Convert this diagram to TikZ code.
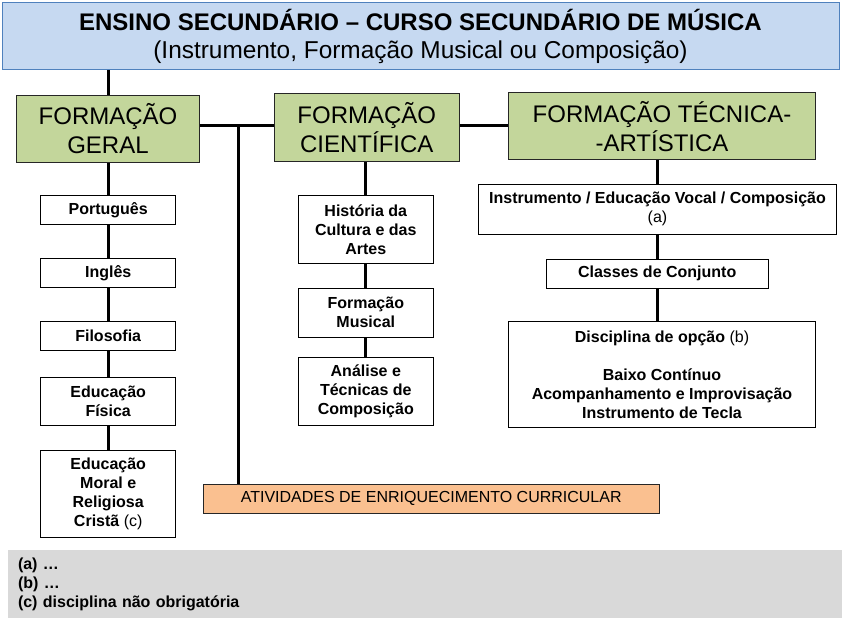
\documentclass[tikz,border=0pt]{standalone}
\usepackage{fontspec}
\setmainfont{Liberation Sans}
\definecolor{titlefill}{HTML}{C6D9F1}
\definecolor{titleline}{HTML}{4F81BD}
\definecolor{headgreen}{HTML}{C3D69B}
\definecolor{extraorange}{HTML}{FAC090}
\definecolor{notegray}{HTML}{D9D9D9}
\tikzset{
  titlebox/.style={draw=titleline, line width=1pt, fill=titlefill, inner sep=0pt,
    minimum width=837pt, minimum height=67pt, align=center,
    font=\fontsize{24.4}{28.5}\selectfont},
  headbox/.style={draw=black!85, line width=1pt, fill=headgreen, inner sep=0pt,
    minimum height=67pt, align=center, font=\fontsize{24}{29}\selectfont},
  subjbox/.style={draw=black, line width=1pt, fill=white, inner sep=0pt,
    minimum width=135pt, minimum height=29pt, align=center,
    font=\fontsize{16}{19}\selectfont\bfseries},
  link/.style={line width=3pt},
}
\begin{document}
\begin{tikzpicture}[x=1pt,y=-1pt]
\useasboundingbox (0,0) rectangle (845,620);
% title and the three main blocks
\node[titlebox] (title) at (420.5,36.3) {{\fontsize{24}{28.5}\selectfont\bfseries ENSINO SECUNDÁRIO – CURSO SECUNDÁRIO DE MÚSICA}\\(Instrumento, Formação Musical ou Composição)};
\node[headbox, minimum width=182.6pt] (fg) at (108,128.7) {FORMAÇÃO\\GERAL};
\node[headbox, minimum width=185pt, minimum height=68.4pt] (fc) at (366.8,127.5) {FORMAÇÃO\\CIENTÍFICA};
\node[headbox, minimum width=307.4pt] (fta) at (662,126.3) {FORMAÇÃO TÉCNICA-\\-ARTÍSTICA};
% formacao geral
\node[subjbox] (pt) at (108.2,209.8) {Português};
\node[subjbox, minimum height=28.6pt] (ing) at (108.2,273) {Inglês};
\node[subjbox, minimum height=28.6pt] (fil) at (108.2,336) {Filosofia};
\node[subjbox, minimum height=48pt] (ef) at (108.2,401.3) {Educação\\Física};
\node[subjbox, minimum height=86.7pt] (emrc) at (108.2,493.7) {Educação\\Moral e\\Religiosa\\Cristã {\mdseries (c)}};
% formacao cientifica
\node[subjbox, minimum height=68pt] (hca) at (365.8,229.3) {História da\\Cultura e das\\Artes};
\node[subjbox, minimum height=49pt] (fm) at (365.8,312.8) {Formação\\Musical};
\node[subjbox, minimum height=68pt] (atc) at (365.8,391.3) {Análise e\\Técnicas de\\Composição};
% formacao tecnica-artistica
\node[subjbox, minimum width=358.4pt, minimum height=50.3pt] (ievc) at (657.5,209.2) {Instrumento / Educação Vocal / Composição\\{\mdseries (a)}};
\node[subjbox, minimum width=222.3pt] (cc) at (657.2,273.8) {Classes de Conjunto};
\node[subjbox, minimum width=307.4pt, minimum height=105.6pt] (disc) at (662,374.5) {Disciplina de opção {\mdseries (b)}\\[19pt]Baixo Contínuo\\Acompanhamento e Improvisação\\Instrumento de Tecla};
\node[draw=black!85, line width=1pt, fill=extraorange, inner sep=0pt, minimum width=455.7pt, minimum height=29pt, font=\fontsize{16}{19}\selectfont] (ativ) at (431.2,498.8) {ATIVIDADES DE ENRIQUECIMENTO CURRICULAR};
% notes
\node[fill=notegray, inner sep=0pt, minimum width=834pt, minimum height=68pt, text width=814pt, align=left, font=\fontsize{16}{19}\selectfont\bfseries] (notes) at (425,584) {(a) …\\(b) …\\(c) disciplina não obrigatória};
% connectors
\coordinate (branch) at (238,126);
\draw[link] (title.south -| fg) -- (fg.north);
\draw[link] (fg.east |- branch) -- (fc.west |- branch);
\draw[link] (fc.east |- branch) -- (fta.west |- branch);
\draw[link] (branch) -- (branch |- ativ.north);
\draw[link] (pt.north |- fg.south) -- (pt.north);
\draw[link] (hca.north |- fc.south) -- (hca.north);
\draw[link] (ievc.north |- fta.south) -- (ievc.north);
\foreach \a/\b in {pt/ing, ing/fil, fil/ef, ef/emrc, hca/fm, fm/atc, ievc/cc, cc/disc}
  \draw[link] (\a.south) -- (\a.south |- \b.north);
\end{tikzpicture}
\end{document}
